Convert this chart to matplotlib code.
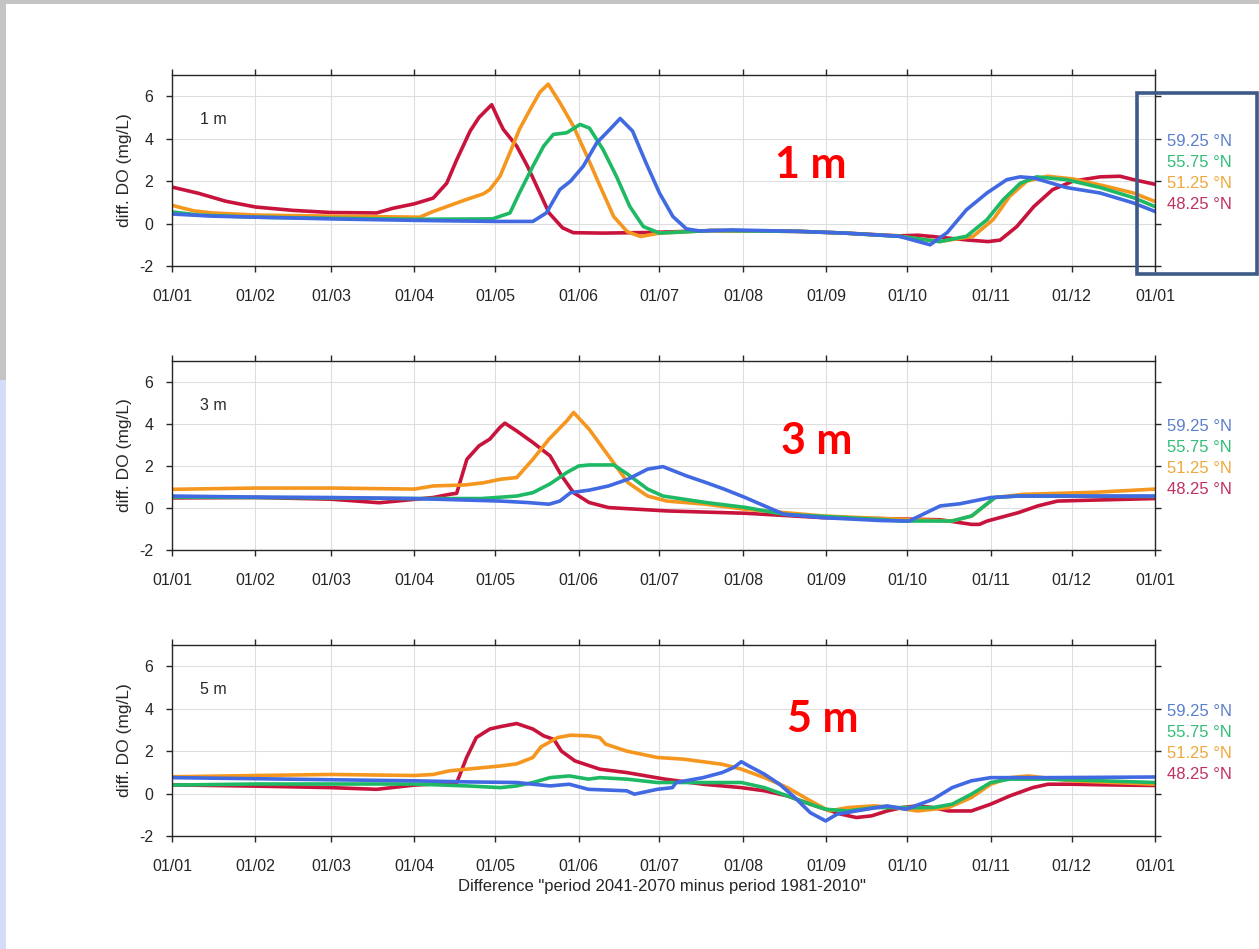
import matplotlib
matplotlib.use("Agg")
import matplotlib.pyplot as plt
import matplotlib.transforms as mtransforms
from matplotlib.patches import Rectangle

plt.rcParams['font.family'] = ['Liberation Sans', 'DejaVu Sans']
plt.rcParams['axes.unicode_minus'] = False

# month ticks (day of year)
month_days = [0, 31, 59, 90, 120, 151, 181, 212, 243, 273, 304, 334, 365]
month_labels = ['01/01', '01/02', '01/03', '01/04', '01/05', '01/06', '01/07',
                '01/08', '01/09', '01/10', '01/11', '01/12', '01/01']
yticks = [-2, 0, 2, 4, 6]

lat_labels = ['59.25 °N', '55.75 °N', '51.25 °N', '48.25 °N']
depth_labels = ['1 m', '3 m', '5 m']
xlabel = 'Difference "period 2041-2070 minus period 1981-2010"'

# ---- 1 m ----
p1_red_x = [0, 10, 20, 31, 45, 59, 76, 82, 90, 97, 102, 105.7, 110.7, 114, 118.7, 121.8, 123, 128,
            132, 136.6, 140, 145, 149, 160, 178, 200, 233, 250, 270, 277, 283, 295, 303, 307.5,
            313.7, 320, 327, 334.6, 344.6, 352, 357, 365]
p1_red_y = [1.72, 1.42, 1.05, 0.78, 0.62, 0.52, 0.5, 0.72, 0.93, 1.2, 1.9, 3.0, 4.36, 5.0, 5.6, 4.75,
            4.44, 3.65, 2.7, 1.44, 0.5, -0.2, -0.43, -0.45, -0.42, -0.33, -0.37, -0.45, -0.58, -0.55,
            -0.62, -0.77, -0.85, -0.78, -0.14, 0.8, 1.6, 2.0, 2.2, 2.23, 2.07, 1.85]
p1_orange_x = [0, 8, 15, 31, 59, 92, 97, 109, 115.6, 118, 121.8, 125.5, 129, 133, 136.6, 139.7, 144,
               149, 154, 159, 164, 169, 174, 181, 200, 233, 250, 270, 285, 297.5, 305, 311, 317.4,
               325, 334.6, 347, 357, 365]
p1_orange_y = [0.86, 0.6, 0.5, 0.4, 0.35, 0.3, 0.57, 1.12, 1.4, 1.6, 2.23, 3.35, 4.44, 5.38, 6.19,
               6.57, 5.7, 4.6, 3.2, 1.75, 0.33, -0.38, -0.61, -0.45, -0.33, -0.37, -0.45, -0.6,
               -0.85, -0.6, 0.2, 1.28, 2.0, 2.23, 2.1, 1.75, 1.44, 1.04]
p1_green_x = [0, 10, 31, 59, 90, 119, 125.5, 129, 134, 138, 141.6, 146.6, 151.5, 155, 160, 165, 170,
              175, 181, 200, 233, 250, 270, 285, 295, 302.6, 308.6, 315, 321, 332, 344.6, 357, 365]
p1_green_y = [0.55, 0.4, 0.3, 0.25, 0.2, 0.22, 0.5, 1.44, 2.7, 3.65, 4.2, 4.28, 4.67, 4.5, 3.5, 2.23,
              0.8, -0.14, -0.45, -0.33, -0.37, -0.45, -0.6, -0.85, -0.6, 0.18, 1.12, 1.9, 2.2, 2.07,
              1.7, 1.22, 0.8]
p1_blue_x = [0, 15, 31, 59, 90, 120, 134, 139, 144, 148, 152.7, 157.7, 162.6, 166.4, 171, 176, 181,
             186, 191, 196, 208, 233, 250, 270, 281.5, 287.8, 295, 302.6, 310, 314.9, 320, 332,
             344.6, 357, 365]
p1_blue_y = [0.45, 0.35, 0.3, 0.22, 0.15, 0.1, 0.1, 0.5, 1.6, 2.0, 2.7, 3.8, 4.44, 4.95, 4.36, 2.86,
             1.44, 0.33, -0.25, -0.35, -0.3, -0.37, -0.45, -0.6, -1.0, -0.43, 0.65, 1.44, 2.07, 2.2,
             2.15, 1.7, 1.44, 0.97, 0.57]

# ---- 3 m ----
p2_red_x = [0, 31, 59, 77, 85, 97, 103, 105.7, 109.5, 114, 118, 121.8, 123.6, 128, 134, 140.4, 144.7,
            149.1, 154.9, 162.1, 183.8, 212.8, 241.8, 270, 285.3, 296.9, 299.8, 302.7, 314.3, 321.5,
            328.8, 343.3, 365]
p2_red_y = [0.48, 0.5, 0.42, 0.25, 0.35, 0.5, 0.65, 0.7, 2.32, 2.96, 3.28, 3.84, 4.04, 3.67, 3.12,
            2.48, 1.53, 0.73, 0.26, 0.02, -0.14, -0.25, -0.46, -0.52, -0.56, -0.78, -0.78, -0.62,
            -0.22, 0.1, 0.33, 0.38, 0.45]
p2_orange_x = [0, 31, 59, 90, 97, 109, 115.6, 122, 128, 134, 140, 146.6, 149.1, 154.9, 162.1, 169.3,
               176.6, 183.8, 198.3, 212.8, 241.8, 263.6, 289.6, 297, 305.6, 316, 343, 365]
p2_orange_y = [0.89, 0.95, 0.95, 0.9, 1.05, 1.1, 1.2, 1.37, 1.45, 2.32, 3.28, 4.15, 4.55, 3.75,
               2.48, 1.21, 0.57, 0.33, 0.18, -0.06, -0.38, -0.5, -0.62, -0.38, 0.5, 0.65, 0.75, 0.9]
p2_green_x = [0, 31, 90, 115, 128, 134, 140.4, 146.6, 151, 155, 164, 169.3, 176.6, 182.3, 198.3,
              212.8, 227.3, 241.8, 263.6, 270.8, 289.6, 296.9, 305.6, 314.3, 365]
p2_green_y = [0.52, 0.5, 0.45, 0.45, 0.57, 0.73, 1.15, 1.69, 2.0, 2.05, 2.05, 1.6, 0.9, 0.57, 0.26,
              0.03, -0.3, -0.4, -0.55, -0.62, -0.62, -0.38, 0.5, 0.57, 0.55]
p2_blue_x = [0, 31, 59, 90, 122, 132, 140, 144, 148, 154.9, 162.1, 169.3, 176.6, 182.3, 191, 198.3,
             205, 212.8, 220, 227.3, 241.8, 263.6, 273.7, 285.3, 292.5, 304.1, 314.3, 365]
p2_blue_y = [0.57, 0.52, 0.5, 0.45, 0.33, 0.26, 0.18, 0.33, 0.73, 0.85, 1.05, 1.37, 1.85, 1.97, 1.53,
             1.21, 0.9, 0.5, 0.1, -0.3, -0.46, -0.6, -0.62, 0.1, 0.2, 0.5, 0.57, 0.57]

# ---- 5 m ----
p3_red_x = [0, 31, 59, 76, 90, 105.7, 109.4, 113, 118, 121.8, 128, 134, 138, 141.8, 144.6, 149.6,
            158.8, 168.8, 183, 197.2, 211.4, 220, 228.5, 237, 242.7, 248.4, 254.1, 259.8, 265.5,
            271.2, 276.8, 282.6, 288.3, 296.8, 304, 311.1, 319.6, 325.3, 333.9, 346.7, 365]
p3_red_y = [0.41, 0.35, 0.28, 0.2, 0.4, 0.5, 1.7, 2.64, 3.04, 3.15, 3.3, 3.04, 2.72, 2.55, 2.0,
            1.54, 1.15, 0.99, 0.68, 0.44, 0.28, 0.13, -0.11, -0.5, -0.74, -0.97, -1.13, -1.05,
            -0.82, -0.66, -0.58, -0.66, -0.82, -0.82, -0.5, -0.11, 0.28, 0.44, 0.44, 0.41, 0.38]
p3_orange_x = [0, 31, 59, 90, 97, 103, 109.5, 122, 128, 134, 137, 143.2, 148, 154.6, 158.8, 161,
               168.8, 180.2, 190, 204.3, 211.4, 220, 228.5, 237, 244, 251, 261, 268.3, 276.8,
               282.6, 288.3, 296.8, 304, 311.1, 318, 333.9, 365]
p3_orange_y = [0.79, 0.85, 0.9, 0.85, 0.9, 1.07, 1.15, 1.3, 1.4, 1.7, 2.2, 2.64, 2.75, 2.72, 2.64,
               2.33, 2.0, 1.7, 1.62, 1.38, 1.15, 0.75, 0.28, -0.34, -0.82, -0.66, -0.58, -0.66,
               -0.82, -0.74, -0.66, -0.19, 0.44, 0.75, 0.83, 0.6, 0.44]
p3_green_x = [0, 31, 59, 90, 109.5, 122, 128, 134, 140.4, 147.5, 154.6, 158.8, 168.8, 180.2, 197.2,
              211.4, 220, 228.5, 237, 242.7, 251, 261, 271, 282.6, 289.7, 296.8, 304, 311.1, 325.3,
              365]
p3_green_y = [0.4, 0.45, 0.45, 0.45, 0.36, 0.28, 0.36, 0.52, 0.75, 0.83, 0.68, 0.75, 0.68, 0.52,
              0.52, 0.52, 0.28, -0.11, -0.5, -0.74, -0.82, -0.66, -0.66, -0.66, -0.5, -0.03, 0.52,
              0.68, 0.68, 0.52]
p3_blue_x = [0, 31, 59, 90, 109.5, 128, 134, 140.4, 147.5, 154.6, 168.8, 171.7, 180.2, 185.8, 187.2,
             197.2, 204.3, 208.6, 211.4, 214.2, 220, 225.6, 231.3, 237, 242.7, 247, 254.1, 265.5,
             272.6, 282.6, 289.7, 296.8, 304, 325.3, 365]
p3_blue_y = [0.75, 0.7, 0.65, 0.6, 0.55, 0.52, 0.44, 0.36, 0.44, 0.2, 0.13, -0.03, 0.2, 0.28, 0.52,
             0.75, 0.99, 1.23, 1.5, 1.3, 0.91, 0.44, -0.19, -0.9, -1.29, -0.97, -0.82, -0.58, -0.74,
             -0.27, 0.28, 0.6, 0.75, 0.75, 0.78]

panels = [
    [(p1_red_x, p1_red_y), (p1_orange_x, p1_orange_y), (p1_green_x, p1_green_y), (p1_blue_x, p1_blue_y)],
    [(p2_red_x, p2_red_y), (p2_orange_x, p2_orange_y), (p2_green_x, p2_green_y), (p2_blue_x, p2_blue_y)],
    [(p3_red_x, p3_red_y), (p3_orange_x, p3_orange_y), (p3_green_x, p3_green_y), (p3_blue_x, p3_blue_y)],
]

line_colors = ['#c8143c', '#f5961e', '#1eb964', '#4169e1']      # red, orange, green, blue
text_colors = ['#5b7fcc', '#33bd78', '#efa83c', '#c03060']      # blue, green, orange, red (top->bottom)
big_label_pos = [(237, 2.75), (239.5, 3.2), (241.7, 3.5)]

W, H = 1259, 949
fig = plt.figure(figsize=(W / 100, H / 100), dpi=100)

# page background strips
fig.patches.append(Rectangle((0, 1 - 4 / H), 1, 4 / H, transform=fig.transFigure,
                             facecolor='#c4c4c4', edgecolor='none', zorder=0))
fig.patches.append(Rectangle((0, 1 - 380 / H), 6 / W, 380 / H, transform=fig.transFigure,
                             facecolor='#c4c4c4', edgecolor='none', zorder=0))
fig.patches.append(Rectangle((0, 0), 6 / W, 1 - 380 / H, transform=fig.transFigure,
                             facecolor='#d4ddf7', edgecolor='none', zorder=0))

left, right = 172, 1155
boxes = [(75, 266), (361, 550), (645, 836)]

for i, (top, bottom) in enumerate(boxes):
    ax = fig.add_axes([left / W, 1 - bottom / H, (right - left) / W, (bottom - top) / H])
    for (xs, ys), c in zip(panels[i], line_colors):
        ax.plot(xs, ys, color=c, lw=2.6, solid_joinstyle='round')

    ax.set_xlim(0, 365)
    ax.set_ylim(-2, 7)
    ax.set_xticks(month_days)
    ax.set_xticklabels(month_labels)
    ax.set_yticks(yticks)
    ax.grid(True, color='#dedede', lw=0.8)
    ax.set_axisbelow(True)
    for s in ax.spines.values():
        s.set_color('#262626')
        s.set_linewidth(1.0)
    ax.tick_params(axis='both', direction='out', length=4.5, width=1.0, color='#262626',
                   labelsize=11.5, labelcolor='#262626', top=True, right=True)
    ax.tick_params(axis='x', pad=12)
    ax.tick_params(axis='y', pad=9)
    ax.set_ylabel('diff. DO (mg/L)', fontsize=12.5, color='#262626')
    ax.yaxis.set_label_coords(-0.0407, 0.5)

    ax.text(10.5, 4.9, depth_labels[i], fontsize=11.5, color='#262626', va='center')

    bx, by = big_label_pos[i]
    ax.text(bx, by, depth_labels[i], fontsize=31, color='#ff0000', fontweight='bold',
            family=['Lato', 'DejaVu Sans'], ha='center', va='center')

    trans = mtransforms.blended_transform_factory(ax.transAxes, ax.transData)
    for j, (lab, c) in enumerate(zip(lat_labels, text_colors)):
        ax.text(1.012, 3.88 - j, lab, transform=trans, fontsize=12, color=c, va='center')

fig.text(662 / W, 1 - 886 / H, xlabel, fontsize=12, color='#262626', ha='center', va='center')

# highlight box around the 1 m legend
fig.patches.append(Rectangle((1137 / W, 1 - 274 / H), 120 / W, 181 / H, transform=fig.transFigure,
                             facecolor='none', edgecolor='#3d5a88', lw=2.6, zorder=5))

fig.savefig('out.png', dpi=100)
